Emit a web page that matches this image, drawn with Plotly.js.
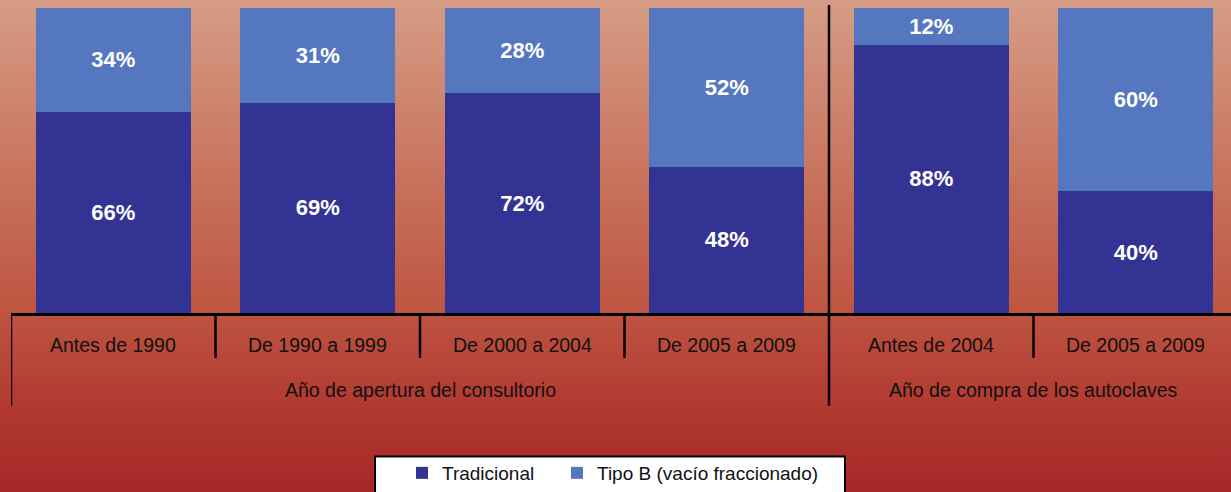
<!DOCTYPE html>
<html>
<head>
<meta charset="utf-8">
<script src="https://cdn.plot.ly/plotly-3.0.1.min.js"></script>
<style>
html,body{margin:0;padding:0;}
body{width:1231px;height:492px;overflow:hidden;
background:linear-gradient(to bottom, rgb(214,156,134) 0%, rgb(200,116,94) 35%, rgb(191,86,66) 62%, rgb(178,58,50) 82%, rgb(166,40,40) 100%);}
#chart{width:1231px;height:492px;}
</style>
</head>
<body>
<div id="chart"></div>
<script>
const categories = ["Antes de 1990","De 1990 a 1999","De 2000 a 2004","De 2005 a 2009","Antes de 2004","De 2005 a 2009"];
const groups = ["Año de apertura del consultorio","Año de compra de los autoclaves"];
const groupSizes = [4, 2];
const tradicional = [66, 69, 72, 48, 88, 40];
const tipoB = [34, 31, 28, 52, 12, 60];
const seriesNames = ["Tradicional","Tipo B (vacío fraccionado)"];

const idx = categories.map((c,i)=>i);
const labelFont = {family:"Liberation Sans, Arial, sans-serif", size:22, color:"#ffffff", weight:"bold"};

const traces = [
  {type:"bar", name:seriesNames[0], x:idx, y:tradicional, marker:{color:"#333394"},
   text:tradicional.map(v=>v+"%"), textposition:"inside", insidetextanchor:"middle",
   textfont:labelFont, hoverinfo:"skip", cliponaxis:false, legend:"legend"},
  {type:"bar", name:seriesNames[1], x:idx, y:tipoB, marker:{color:"#5577c0"},
   text:tipoB.map(v=>v+"%"), textposition:"inside", insidetextanchor:"middle",
   textfont:labelFont, hoverinfo:"skip", cliponaxis:false, legend:"legend2"}
];

const plotH = 306;
const px2paper = p => -p/plotH;
const shapes = [];
const annotations = [];
const txtFont = {family:"Liberation Sans, Arial, sans-serif", size:19.5, color:"#111111"};

// group boundaries
const boundaries = [];
let acc = 0;
groupSizes.forEach(s=>{boundaries.push(acc - 0.5); acc += s;});
// category dividers (short)
for (let i=1;i<categories.length;i++){
  const b = i-0.5;
  if (boundaries.includes(b)) continue;
  shapes.push({type:"line", xref:"x", yref:"paper", x0:b, x1:b, y0:0, y1:px2paper(45), line:{color:"#000",width:2.5}});
}
// group dividers (long)
boundaries.forEach((b,k)=>{
  shapes.push({type:"line", xref:"x", yref:"paper", x0:b, x1:b, y0:(k===0?0:1.01), y1:px2paper(93), line:{color:"#000",width:2.5}});
});
// category labels
categories.forEach((c,i)=>{
  annotations.push({xref:"x", yref:"paper", x:i, y:px2paper(32), text:c, showarrow:false, font:txtFont, xanchor:"center", yanchor:"middle"});
});
// group labels
acc = 0;
groups.forEach((g,k)=>{
  const center = acc + (groupSizes[k]-1)/2;
  acc += groupSizes[k];
  annotations.push({xref:"x", yref:"paper", x:center, y:px2paper(77), text:g, showarrow:false, font:txtFont, xanchor:"center", yanchor:"middle"});
});
// legend box
shapes.push({type:"rect", xref:"paper", yref:"paper", x0:(375-11)/1220, x1:(845-11)/1220, y0:px2paper(144), y1:px2paper(200),
  fillcolor:"#ffffff", line:{color:"#000",width:2}, layer:"below"});

const legFont = {family:"Liberation Sans, Arial, sans-serif", size:19, color:"#111"};
const legBase = {orientation:"h", xanchor:"left", y:px2paper(161), yanchor:"middle",
  bgcolor:"rgba(0,0,0,0)", borderwidth:0, font:legFont};

const layout = {
  width:1231, height:492,
  margin:{l:11, r:0, t:8, b:178, pad:0},
  paper_bgcolor:"rgba(0,0,0,0)", plot_bgcolor:"rgba(0,0,0,0)",
  barmode:"stack", bargap:0.24,
  showlegend:true,
  legend:Object.assign({}, legBase, {x:(402-11)/1220}),
  legend2:Object.assign({}, legBase, {x:(557-11)/1220}),
  xaxis:{range:[-0.5, -0.5 + 1220/204.5], showticklabels:false, ticks:"", showgrid:false, zeroline:false,
    showline:true, linecolor:"#000", linewidth:2.5, fixedrange:true},
  yaxis:{range:[0,100], visible:false, fixedrange:true},
  shapes:shapes, annotations:annotations
};

Plotly.newPlot("chart", traces, layout, {staticPlot:true, displayModeBar:false});
</script>
</body>
</html>
